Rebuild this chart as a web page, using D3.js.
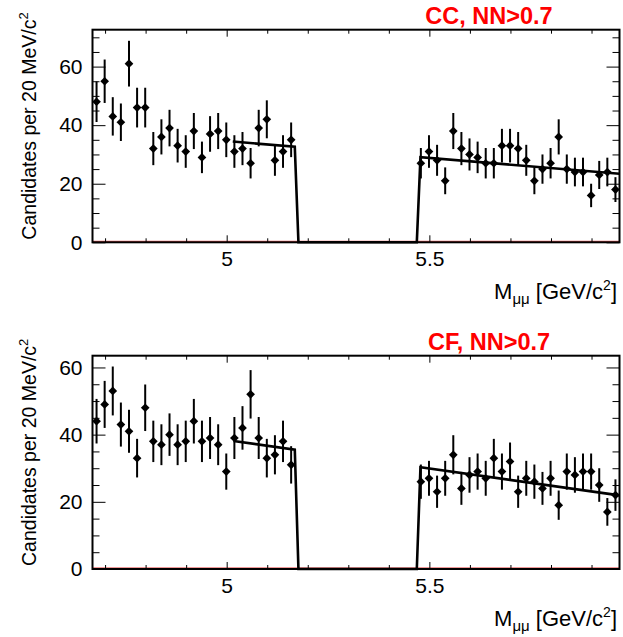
<!DOCTYPE html>
<html>
<head>
<meta charset="utf-8">
<script src="https://cdn.jsdelivr.net/npm/d3@7"></script>
<style>
  html, body { margin: 0; padding: 0; background: #fff; }
  svg { display: block; }
  text { font-family: "Liberation Sans", Arial, Helvetica, sans-serif; }
</style>
</head>
<body>
<svg id="chart" width="623" height="637"></svg>
<script>
// Dimuon invariant-mass sidebands, 20 MeV/c^2 bins (signal window blinded)
const massRange = [4.669, 5.969];
const binWidth = 0.02;
const leftSidebandStart = 4.669;
const rightSidebandStart = 5.469;
const blindWindow = [5.169, 5.469];

// Candidates per bin, CC category
const ccLeft  = [48, 55, 43, 41, 61, 46, 46, 32, 36, 39, 33, 31, 38, 29, 37, 38, 35, 31, 32, 27, 39, 42, 28, 31, 35];
const ccRight = [27, 31, 28, 21, 38, 32, 30, 29, 27, 27, 33, 33, 32, 28, 21, 25, 27, 36, 25, 24, 24, 16, 23, 24, 18];
// Candidates per bin, CF category
const cfLeft  = [44, 49, 53, 43, 41, 33, 48, 38, 37, 40, 37, 38, 44, 38, 39, 37, 29, 39, 42, 52, 39, 33, 34, 38, 31];
const cfRight = [26, 27, 23, 27, 34, 24, 28, 29, 27, 33, 29, 32, 23, 27, 26, 24, 27, 19, 29, 28, 29, 29, 25, 17, 22];

// Linear background fit: n(m) = a + b*(m - 5), drawn from fitStart
const ccFit = [34.57, -11.5];
const cfFit = [38.4, -17.0];
const fitStart = [5.015, 5.017];

const panelTitles = ["CC, NN>0.7", "CF, NN>0.7"];
const yMaxes = [72.6, 63.5];
const yMajorTicks = [0, 20, 40, 60];
const xLabelTicks = [5, 5.5];
const xMinorTicks = [4.7, 4.8, 4.9, 5.1, 5.2, 5.3, 5.4, 5.6, 5.7, 5.8, 5.9];

const svg = d3.select("#chart");
const frameX = [92.5, 619.5];
const panelBoxes = [
  { top: 29.7, bottom: 242.3 },
  { top: 355.7, bottom: 569 }
];

const datasets = [
  { left: ccLeft, right: ccRight, fit: ccFit, start: fitStart[0] },
  { left: cfLeft, right: cfRight, fit: cfFit, start: fitStart[1] }
];

function binPoints(values, start) {
  return values.map((n, i) => ({ m: start + binWidth * (i + 0.5), n }));
}

datasets.forEach((ds, p) => {
  const box = panelBoxes[p];
  const x = d3.scaleLinear().domain(massRange).range(frameX);
  const y = d3.scaleLinear().domain([0, yMaxes[p]]).range([box.bottom, box.top]);
  const g = svg.append("g");

  // zero line of the histogram
  g.append("line")
    .attr("x1", frameX[0]).attr("x2", frameX[1])
    .attr("y1", y(0) - 1).attr("y2", y(0) - 1)
    .attr("stroke", "#e03030").attr("stroke-width", 1);

  // y axes, left with labels, right mirrored
  const yMinor = d3.range(0, yMaxes[p], 5).filter(v => v % 20 !== 0);
  const leftMajor = d3.axisLeft(y).tickValues(yMajorTicks).tickSize(-13).tickPadding(10).tickFormat(d3.format("d"));
  const leftMinor = d3.axisLeft(y).tickValues(yMinor).tickSize(-7).tickFormat("");
  const rightMajor = d3.axisRight(y).tickValues(yMajorTicks).tickSize(-13).tickFormat("");
  const rightMinor = d3.axisRight(y).tickValues(yMinor).tickSize(-7).tickFormat("");
  [[leftMajor, frameX[0]], [leftMinor, frameX[0]], [rightMajor, frameX[1]], [rightMinor, frameX[1]]].forEach(([ax, px]) => {
    const a = g.append("g").attr("transform", `translate(${px},0)`).call(ax);
    a.select(".domain").remove();
    a.selectAll("line").attr("stroke", "#000").attr("stroke-width", 1);
    a.selectAll("text").attr("font-size", 21).attr("fill", "#000")
      .attr("font-family", "'Liberation Sans', Arial, sans-serif");
  });

  // x axes, bottom with labels, top mirrored
  const botMajor = d3.axisBottom(x).tickValues(xLabelTicks).tickSize(-7).tickPadding(9).tickFormat(d3.format("~g"));
  const botMinor = d3.axisBottom(x).tickValues(xMinorTicks).tickSize(-4).tickFormat("");
  const topMajor = d3.axisTop(x).tickValues(xLabelTicks).tickSize(-7).tickFormat("");
  const topMinor = d3.axisTop(x).tickValues(xMinorTicks).tickSize(-4).tickFormat("");
  [[botMajor, box.bottom], [botMinor, box.bottom], [topMajor, box.top], [topMinor, box.top]].forEach(([ax, py]) => {
    const a = g.append("g").attr("transform", `translate(0,${py})`).call(ax);
    a.select(".domain").remove();
    a.selectAll("line").attr("stroke", "#000").attr("stroke-width", 1);
    a.selectAll("text").attr("font-size", 21).attr("fill", "#000")
      .attr("font-family", "'Liberation Sans', Arial, sans-serif");
  });

  // frame
  g.append("rect")
    .attr("x", frameX[0]).attr("y", box.top)
    .attr("width", frameX[1] - frameX[0]).attr("height", box.bottom - box.top)
    .attr("fill", "none").attr("stroke", "#000").attr("stroke-width", 2);

  // background fit with blinded window
  const f = m => ds.fit[0] + ds.fit[1] * (m - 5);
  const fitPts = [
    [ds.start, f(ds.start)],
    [blindWindow[0] - 0.001, f(blindWindow[0] - 0.001)],
    [blindWindow[0] + 0.008, 0],
    [blindWindow[1], 0],
    [blindWindow[1] + 0.009, f(blindWindow[1] + 0.009)],
    [massRange[1], f(massRange[1])]
  ];
  g.append("path")
    .attr("d", d3.line().x(d => x(d[0])).y(d => y(d[1]))(fitPts))
    .attr("fill", "none").attr("stroke", "#000").attr("stroke-width", 2.6)
    .attr("stroke-linejoin", "miter");

  // data points with Poisson error bars
  const pts = binPoints(ds.left, leftSidebandStart).concat(binPoints(ds.right, rightSidebandStart));
  g.append("g").selectAll("line").data(pts).join("line")
    .attr("x1", d => x(d.m)).attr("x2", d => x(d.m))
    .attr("y1", d => y(d.n + Math.sqrt(d.n))).attr("y2", d => y(d.n - Math.sqrt(d.n)))
    .attr("stroke", "#000").attr("stroke-width", 2);
  g.append("g").selectAll("path").data(pts).join("path")
    .attr("d", d3.symbol(d3.symbolSquare, 38)())
    .attr("transform", d => `translate(${x(d.m)},${y(d.n)}) rotate(45)`)
    .attr("fill", "#000");

  // panel title
  g.append("text")
    .attr("x", 489).attr("y", box.top - 5.5)
    .attr("text-anchor", "middle")
    .attr("font-size", 23.5).attr("font-weight", "bold").attr("fill", "#ff0000")
    .text(panelTitles[p]);

  // y title
  const yt = g.append("text")
    .attr("transform", `translate(36,${(box.top + box.bottom) / 2 - 10}) rotate(-90)`)
    .attr("text-anchor", "middle")
    .attr("font-size", 19.5).attr("fill", "#000");
  yt.append("tspan").text("Candidates per 20 MeV/c");
  yt.append("tspan").attr("font-size", 13).attr("dy", -8).text("2");

  // x title
  const xt = g.append("text")
    .attr("x", 617).attr("y", box.bottom + 57)
    .attr("text-anchor", "end")
    .attr("font-size", 22).attr("fill", "#000");
  xt.append("tspan").text("M");
  xt.append("tspan").attr("font-size", 15).attr("dy", 5).text("μμ");
  xt.append("tspan").attr("dy", -5).text(" [GeV/c");
  xt.append("tspan").attr("font-size", 14).attr("dy", -9).text("2");
  xt.append("tspan").attr("dy", 9).text("]");
});
</script>
</body>
</html>
